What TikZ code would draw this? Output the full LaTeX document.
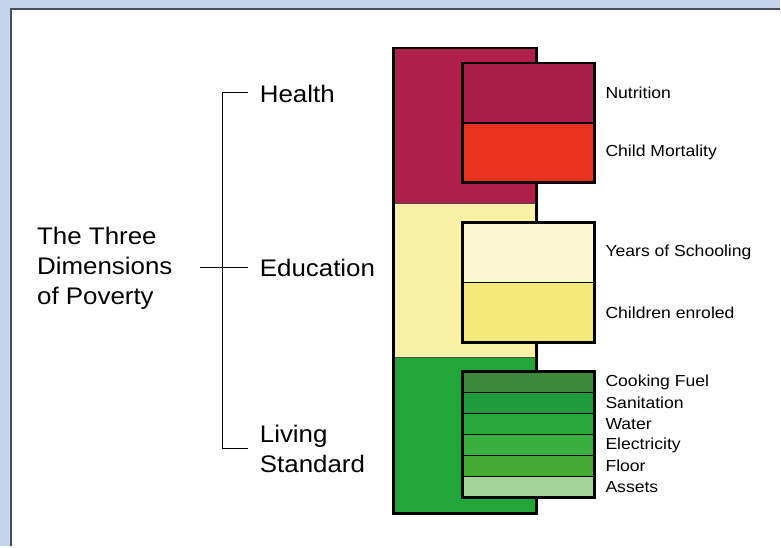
\documentclass[tikz,border=0pt]{standalone}
\usepackage{fontspec}
\setmainfont{Liberation Sans}
\newfontfamily\bigfont[FakeStretch=1.08]{Liberation Sans}
\newfontfamily\smallfont[FakeStretch=1.1]{Liberation Sans}
\definecolor{frameblue}{HTML}{C6D5EC}
\definecolor{panelline}{HTML}{4A4F5A}
\definecolor{healthcol}{HTML}{B01E4C}
\definecolor{nutricol}{HTML}{A81E4A}
\definecolor{mortcol}{HTML}{E6321E}
\definecolor{educol}{HTML}{F9F2A6}
\definecolor{schoolcol}{HTML}{FBF7D2}
\definecolor{enrolcol}{HTML}{F3EA7A}
\definecolor{livcol}{HTML}{22A63A}
\definecolor{fuelcol}{HTML}{3E8A3C}
\definecolor{sanicol}{HTML}{1F9A3C}
\definecolor{watercol}{HTML}{2AA63C}
\definecolor{eleccol}{HTML}{3BAE40}
\definecolor{floorcol}{HTML}{46AA34}
\definecolor{assetcol}{HTML}{A4D49A}
\tikzset{
  bigtxt/.style={inner sep=0pt, anchor=base west, font=\bigfont\fontsize{24}{30}\selectfont},
  smalltxt/.style={inner sep=0pt, anchor=west, font=\smallfont\fontsize{16}{21}\selectfont},
  boxline/.style={draw=black, line width=2.8pt},
  rowline/.style={draw=black, line width=1.6pt},
  sepline/.style={draw=black!70, line width=0.6pt},
  bracket/.style={draw=black, line width=1.2pt}
}
\begin{document}
\begin{tikzpicture}[x=1pt,y=-1pt]
% frame and white panel
\fill[frameblue] (0,0) rectangle (781,547);
\fill[white] (11,9) rectangle (781,547);
\draw[panelline, line width=1.8pt] (11,547) -- (11,9) -- (781,9);
\useasboundingbox (0,0) rectangle (781,547);

% main dimension column
\fill[healthcol] (394,48) rectangle (537,204);
\fill[educol] (394,204) rectangle (537,358);
\fill[livcol] (394,358) rectangle (537,514);
\draw[sepline] (394,204) -- (537,204);
\draw[sepline] (394,358) -- (537,358);
\draw[boxline] (394,48) rectangle (537,514);

% health indicators
\fill[nutricol] (463,63) rectangle (595,123);
\fill[mortcol] (463,123) rectangle (595,183);
\draw[rowline] (463,123) -- (595,123);
\draw[boxline] (463,63) rectangle (595,183);

% education indicators
\fill[schoolcol] (463,223) rectangle (595,283);
\fill[enrolcol] (463,283) rectangle (595,343);
\draw[rowline] (463,283) -- (595,283);
\draw[boxline] (463,223) rectangle (595,343);

% living standard indicators
\fill[fuelcol] (463,372) rectangle (595,393);
\fill[sanicol] (463,393) rectangle (595,414);
\fill[watercol] (463,414) rectangle (595,435);
\fill[eleccol] (463,435) rectangle (595,456);
\fill[floorcol] (463,456) rectangle (595,477);
\fill[assetcol] (463,477) rectangle (595,498);
\foreach \yy in {393,414,435,456,477} \draw[rowline] (463,\yy) -- (595,\yy);
\draw[boxline] (463,372) rectangle (595,498);

% indicator labels
\node[smalltxt] (nutri) at (606,93) {Nutrition};
\node[smalltxt] (mort) at (606,153) {Child Mortality};
\node[smalltxt] (school) at (606,253) {Years of Schooling};
\node[smalltxt] (enrol) at (606,313) {Children enroled};
\node[smalltxt] (fuel) at (606,382.5) {Cooking Fuel};
\node[smalltxt] (sani) at (606,403.5) {Sanitation};
\node[smalltxt] (water) at (606,424.5) {Water};
\node[smalltxt] (elec) at (606,445.5) {Electricity};
\node[smalltxt] (floor) at (606,466.5) {Floor};
\node[smalltxt] (asset) at (606,487.5) {Assets};

% dimension labels
\node[bigtxt] (health) at (260,103) {Health};
\node[bigtxt] (edu) at (260,277) {Education};
\node[bigtxt] (living) at (260,443) {Living};
\node[bigtxt] (standard) at (260,473) {Standard};
\node[bigtxt] (three) at (37,245) {The Three};
\node[bigtxt] (dims) at (37,275) {Dimensions};
\node[bigtxt] (pov) at (37,305) {of Poverty};

% bracket joining the title to the dimensions
\coordinate (btop) at (223,93);
\coordinate (bbot) at (223,449);
\coordinate (bmid) at (223,268);
\coordinate (tstart) at (200,268);
\draw[bracket] (248,93) -- (btop) -- (bbot) -- (248,449);
\draw[bracket] (tstart) -- (248,268);
\end{tikzpicture}
\end{document}
